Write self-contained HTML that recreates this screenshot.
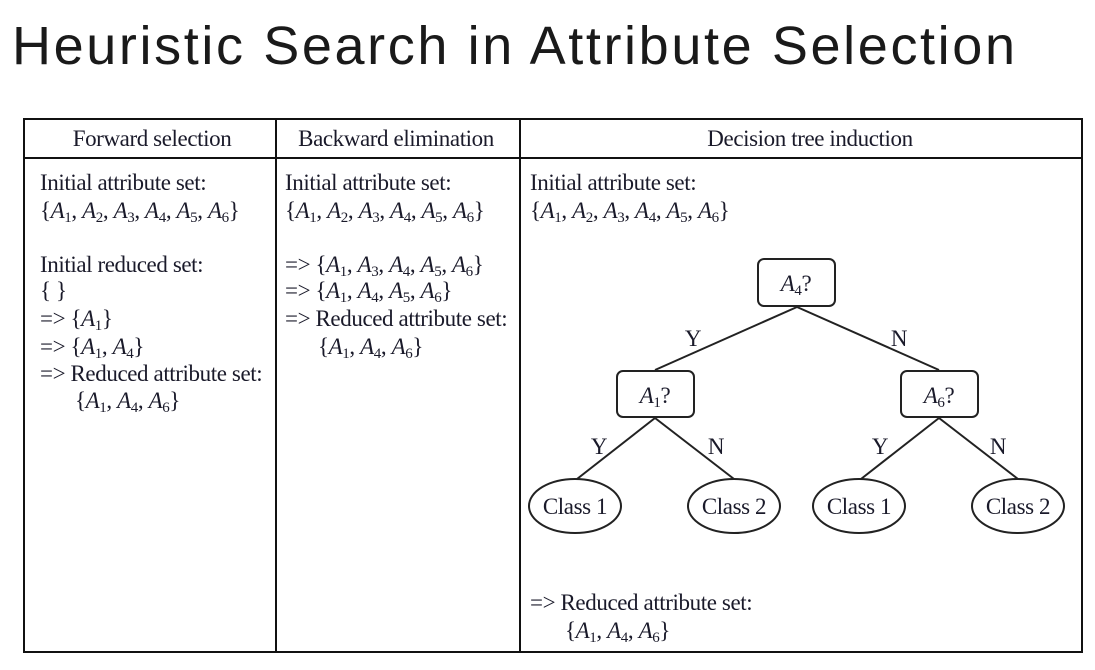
<!DOCTYPE html>
<html><head><meta charset="utf-8"><style>
html,body{margin:0;padding:0;background:#fff;width:1095px;height:670px;overflow:hidden}
svg text{font-family:"Liberation Serif",serif;font-size:23px;fill:#1a1a2a;letter-spacing:-0.4px}
svg text.t{font-family:"Liberation Sans",sans-serif;font-size:54px;fill:#1a1a1a;letter-spacing:0}
</style></head><body>
<svg width="1095" height="670" xmlns="http://www.w3.org/2000/svg">
<text class="t" x="12" y="64" textLength="1003" lengthAdjust="spacing">Heuristic Search in Attribute Selection</text>
<g fill="none" stroke="#111" stroke-width="2">
<rect x="24" y="119" width="1058" height="533"/>
<line x1="24" y1="158" x2="1082" y2="158"/>
<line x1="276" y1="119" x2="276" y2="652"/>
<line x1="520" y1="119" x2="520" y2="652"/>
</g>
<text x="152" y="146" text-anchor="middle">Forward selection</text>
<text x="396" y="146" text-anchor="middle">Backward elimination</text>
<text x="810" y="146" text-anchor="middle">Decision tree induction</text>

<!-- col1 -->
<text x="40" y="190">Initial attribute set:</text>
<text x="40" y="218">{<tspan font-style="italic">A</tspan><tspan font-size="15" dy="4">1</tspan><tspan dy="-4">, </tspan><tspan font-style="italic">A</tspan><tspan font-size="15" dy="4">2</tspan><tspan dy="-4">, </tspan><tspan font-style="italic">A</tspan><tspan font-size="15" dy="4">3</tspan><tspan dy="-4">, </tspan><tspan font-style="italic">A</tspan><tspan font-size="15" dy="4">4</tspan><tspan dy="-4">, </tspan><tspan font-style="italic">A</tspan><tspan font-size="15" dy="4">5</tspan><tspan dy="-4">, </tspan><tspan font-style="italic">A</tspan><tspan font-size="15" dy="4">6</tspan><tspan dy="-4">}</tspan></text>
<text x="40" y="272">Initial reduced set:</text>
<text x="40" y="298">{ }</text>
<text x="40" y="326">=&gt; {<tspan font-style="italic">A</tspan><tspan font-size="15" dy="4">1</tspan><tspan dy="-4">}</tspan></text>
<text x="40" y="354">=&gt; {<tspan font-style="italic">A</tspan><tspan font-size="15" dy="4">1</tspan><tspan dy="-4">, </tspan><tspan font-style="italic">A</tspan><tspan font-size="15" dy="4">4</tspan><tspan dy="-4">}</tspan></text>
<text x="40" y="381">=&gt; Reduced attribute set:</text>
<text x="75" y="408">{<tspan font-style="italic">A</tspan><tspan font-size="15" dy="4">1</tspan><tspan dy="-4">, </tspan><tspan font-style="italic">A</tspan><tspan font-size="15" dy="4">4</tspan><tspan dy="-4">, </tspan><tspan font-style="italic">A</tspan><tspan font-size="15" dy="4">6</tspan><tspan dy="-4">}</tspan></text>

<!-- col2 -->
<text x="285" y="190">Initial attribute set:</text>
<text x="285" y="218">{<tspan font-style="italic">A</tspan><tspan font-size="15" dy="4">1</tspan><tspan dy="-4">, </tspan><tspan font-style="italic">A</tspan><tspan font-size="15" dy="4">2</tspan><tspan dy="-4">, </tspan><tspan font-style="italic">A</tspan><tspan font-size="15" dy="4">3</tspan><tspan dy="-4">, </tspan><tspan font-style="italic">A</tspan><tspan font-size="15" dy="4">4</tspan><tspan dy="-4">, </tspan><tspan font-style="italic">A</tspan><tspan font-size="15" dy="4">5</tspan><tspan dy="-4">, </tspan><tspan font-style="italic">A</tspan><tspan font-size="15" dy="4">6</tspan><tspan dy="-4">}</tspan></text>
<text x="285" y="272">=&gt; {<tspan font-style="italic">A</tspan><tspan font-size="15" dy="4">1</tspan><tspan dy="-4">, </tspan><tspan font-style="italic">A</tspan><tspan font-size="15" dy="4">3</tspan><tspan dy="-4">, </tspan><tspan font-style="italic">A</tspan><tspan font-size="15" dy="4">4</tspan><tspan dy="-4">, </tspan><tspan font-style="italic">A</tspan><tspan font-size="15" dy="4">5</tspan><tspan dy="-4">, </tspan><tspan font-style="italic">A</tspan><tspan font-size="15" dy="4">6</tspan><tspan dy="-4">}</tspan></text>
<text x="285" y="298">=&gt; {<tspan font-style="italic">A</tspan><tspan font-size="15" dy="4">1</tspan><tspan dy="-4">, </tspan><tspan font-style="italic">A</tspan><tspan font-size="15" dy="4">4</tspan><tspan dy="-4">, </tspan><tspan font-style="italic">A</tspan><tspan font-size="15" dy="4">5</tspan><tspan dy="-4">, </tspan><tspan font-style="italic">A</tspan><tspan font-size="15" dy="4">6</tspan><tspan dy="-4">}</tspan></text>
<text x="285" y="326">=&gt; Reduced attribute set:</text>
<text x="318" y="354">{<tspan font-style="italic">A</tspan><tspan font-size="15" dy="4">1</tspan><tspan dy="-4">, </tspan><tspan font-style="italic">A</tspan><tspan font-size="15" dy="4">4</tspan><tspan dy="-4">, </tspan><tspan font-style="italic">A</tspan><tspan font-size="15" dy="4">6</tspan><tspan dy="-4">}</tspan></text>

<!-- col3 -->
<text x="530" y="190">Initial attribute set:</text>
<text x="530" y="218">{<tspan font-style="italic">A</tspan><tspan font-size="15" dy="4">1</tspan><tspan dy="-4">, </tspan><tspan font-style="italic">A</tspan><tspan font-size="15" dy="4">2</tspan><tspan dy="-4">, </tspan><tspan font-style="italic">A</tspan><tspan font-size="15" dy="4">3</tspan><tspan dy="-4">, </tspan><tspan font-style="italic">A</tspan><tspan font-size="15" dy="4">4</tspan><tspan dy="-4">, </tspan><tspan font-style="italic">A</tspan><tspan font-size="15" dy="4">5</tspan><tspan dy="-4">, </tspan><tspan font-style="italic">A</tspan><tspan font-size="15" dy="4">6</tspan><tspan dy="-4">}</tspan></text>
<text x="530" y="610">=&gt; Reduced attribute set:</text>
<text x="565" y="638">{<tspan font-style="italic">A</tspan><tspan font-size="15" dy="4">1</tspan><tspan dy="-4">, </tspan><tspan font-style="italic">A</tspan><tspan font-size="15" dy="4">4</tspan><tspan dy="-4">, </tspan><tspan font-style="italic">A</tspan><tspan font-size="15" dy="4">6</tspan><tspan dy="-4">}</tspan></text>

<!-- tree -->
<g fill="none" stroke="#222" stroke-width="2">
<line x1="797" y1="307" x2="655" y2="370"/>
<line x1="797" y1="307" x2="939" y2="370"/>
<line x1="655" y1="418" x2="577" y2="479"/>
<line x1="655" y1="418" x2="734" y2="479"/>
<line x1="939" y1="418" x2="861" y2="479"/>
<line x1="939" y1="418" x2="1018" y2="479"/>
<rect x="758" y="259" width="77" height="47" rx="6" fill="#fff"/>
<rect x="617" y="371" width="77" height="46" rx="6" fill="#fff"/>
<rect x="901" y="371" width="77" height="46" rx="6" fill="#fff"/>
<ellipse cx="575" cy="506" rx="46" ry="27" fill="#fff"/>
<ellipse cx="734" cy="506" rx="46" ry="27" fill="#fff"/>
<ellipse cx="859" cy="506" rx="46" ry="27" fill="#fff"/>
<ellipse cx="1018" cy="506" rx="46" ry="27" fill="#fff"/>
</g>
<text x="796" y="291" text-anchor="middle"><tspan font-style="italic">A</tspan><tspan font-size="15" dy="4">4</tspan><tspan dy="-4">?</tspan></text>
<text x="655" y="403" text-anchor="middle"><tspan font-style="italic">A</tspan><tspan font-size="15" dy="4">1</tspan><tspan dy="-4">?</tspan></text>
<text x="939" y="403" text-anchor="middle"><tspan font-style="italic">A</tspan><tspan font-size="15" dy="4">6</tspan><tspan dy="-4">?</tspan></text>
<text x="693" y="346" text-anchor="middle">Y</text>
<text x="899" y="346" text-anchor="middle">N</text>
<text x="599" y="454" text-anchor="middle">Y</text>
<text x="716" y="454" text-anchor="middle">N</text>
<text x="880" y="454" text-anchor="middle">Y</text>
<text x="998" y="454" text-anchor="middle">N</text>
<text x="575" y="514" text-anchor="middle">Class 1</text>
<text x="734" y="514" text-anchor="middle">Class 2</text>
<text x="859" y="514" text-anchor="middle">Class 1</text>
<text x="1018" y="514" text-anchor="middle">Class 2</text>
</svg>
</body></html>
